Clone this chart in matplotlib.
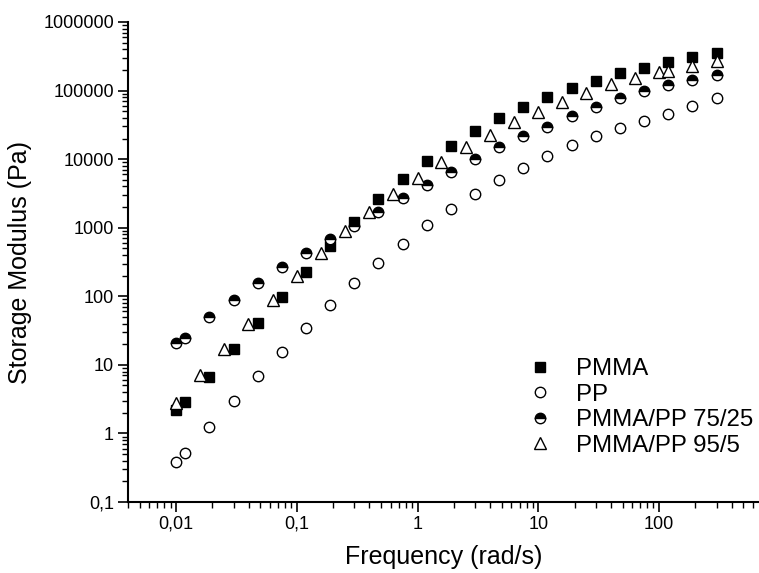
import numpy as np
import matplotlib
matplotlib.use("Agg")
import matplotlib.pyplot as plt
from matplotlib.ticker import LogLocator, FixedLocator, FixedFormatter, NullFormatter

plt.rcParams['font.family'] = ['Liberation Sans', 'DejaVu Sans']

# Frequencies (rad/s)
freq_a = [0.01, 0.0119, 0.0189, 0.03, 0.0475, 0.0753, 0.119, 0.189, 0.3, 0.475, 0.753,
          1.19, 1.89, 3.0, 4.75, 7.53, 11.9, 18.9, 30, 47.5, 75.3, 119, 189, 300]
freq_b = [0.01, 0.0158, 0.0251, 0.0398, 0.0631, 0.1, 0.158, 0.251, 0.398, 0.631, 1.0,
          1.58, 2.51, 3.98, 6.31, 10, 15.8, 25.1, 39.8, 63.1, 100, 119, 189, 300]

pmma = [2.19, 2.9, 6.57, 16.8, 40.2, 98.4, 228, 539, 1219, 2586, 5060,
        9440, 15630, 25870, 39200, 57800, 80900, 107400, 138400, 177500, 214300, 262000, 309800, 347500]
pp = [0.386, 0.524, 1.25, 2.97, 6.87, 15.5, 34.0, 74.4, 154, 308, 577,
      1081, 1848, 3057, 4940, 7465, 11170, 16000, 21640, 28030, 35800, 45730, 58650, 76700]
blend_75_25 = [20.6, 24.3, 50.2, 88, 157, 269, 431, 675, 1055, 1706, 2674,
               4180, 6530, 9900, 14820, 21640, 29580, 42350, 56700, 76700, 98000, 119900, 141800, 167600]
blend_95_5 = [2.8, 7.1, 16.8, 39.3, 88, 197, 422, 892, 1688, 3090, 5230,
              9140, 14820, 22600, 34270, 48950, 68400, 92500, 122700, 153100, 183600, 193600, 227000, 271000]

labels = ["PMMA", "PP", "PMMA/PP 75/25", "PMMA/PP 95/5"]
x_ticks = [0.01, 0.1, 1, 10, 100]
x_ticklabels = ["0,01", "0,1", "1", "10", "100"]
y_ticks = [0.1, 1, 10, 100, 1000, 10000, 100000, 1000000]
y_ticklabels = ["0,1", "1", "10", "100", "1000", "10000", "100000", "1000000"]

W, H = 759, 573
fig = plt.figure(figsize=(W / 100, H / 100), dpi=100)
ax = fig.add_axes([128 / W, (H - 502) / H, 1 - 128 / W, (502 - 22) / H])

ew = 1.0
ax.plot(freq_a, pmma, linestyle='none', marker='s', markersize=7.5, color='black',
        markeredgewidth=ew, label=labels[0], zorder=3)
ax.plot(freq_a, pp, linestyle='none', marker='o', markersize=7.5, markerfacecolor='white',
        markeredgecolor='black', markeredgewidth=ew, label=labels[1], zorder=3)
ax.plot(freq_a, blend_75_25, linestyle='none', marker='o', markersize=7.5, fillstyle='top',
        markerfacecolor='black', markerfacecoloralt='white', markeredgecolor='black',
        markeredgewidth=ew, label=labels[2], zorder=3)
ax.plot(freq_b, blend_95_5, linestyle='none', marker='^', markersize=9, markerfacecolor='white',
        markeredgecolor='black', markeredgewidth=ew, label=labels[3], zorder=3)

ax.set_xscale('log')
ax.set_yscale('log')
ax.set_xlim(10 ** -2.398, 10 ** 2.8285)
ax.set_ylim(0.1, 1e6)

ax.xaxis.set_major_locator(FixedLocator(x_ticks))
ax.xaxis.set_major_formatter(FixedFormatter(x_ticklabels))
ax.yaxis.set_major_locator(FixedLocator(y_ticks))
ax.yaxis.set_major_formatter(FixedFormatter(y_ticklabels))
ax.xaxis.set_minor_locator(LogLocator(base=10, subs=np.arange(2, 10), numticks=20))
ax.yaxis.set_minor_locator(LogLocator(base=10, subs=np.arange(2, 10), numticks=20))
ax.xaxis.set_minor_formatter(NullFormatter())
ax.yaxis.set_minor_formatter(NullFormatter())

for s in ['top', 'right']:
    ax.spines[s].set_visible(False)
for s in ['left', 'bottom']:
    ax.spines[s].set_linewidth(1.5)

ax.tick_params(which='major', direction='out', length=7, width=1.2, labelsize=13, pad=3)
ax.tick_params(which='minor', direction='out', length=4.5, width=1.0)

ax.set_xlabel("Frequency (rad/s)", fontsize=18, labelpad=9)
ax.set_ylabel("Storage Modulus (Pa)", fontsize=18, labelpad=8)

leg = ax.legend(loc='upper left', bbox_to_anchor=(523 / W, (H - 358) / H),
                bbox_transform=fig.transFigure, frameon=False, fontsize=17.3,
                handlelength=1.4, handletextpad=0.8, labelspacing=0.15, borderpad=0,
                borderaxespad=0)

fig.savefig("out.png", dpi=100)
